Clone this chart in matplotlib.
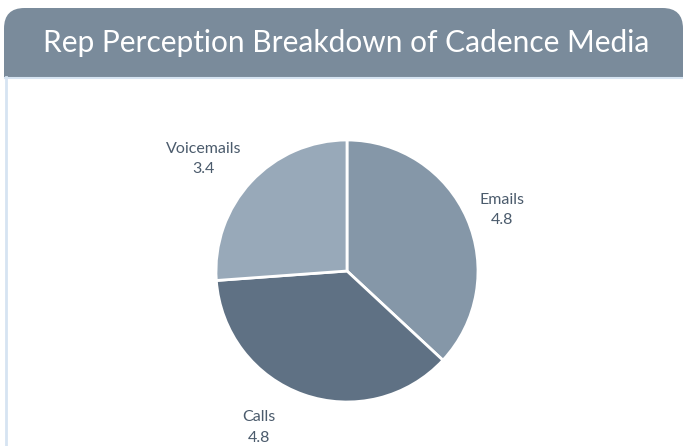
import matplotlib.pyplot as plt
from matplotlib.patches import FancyBboxPatch, Rectangle
from matplotlib.lines import Line2D
import numpy as np

plt.rcParams['font.family'] = ['Lato', 'DejaVu Sans']

title = 'Rep Perception Breakdown of Cadence Media'
media = ['Emails', 'Calls', 'Voicemails']
scores = [4.8, 4.8, 3.4]
colors = ['#8597a8', '#5f7184', '#98a9b9']

W, H = 683, 446
fig = plt.figure(figsize=(W / 100, H / 100), dpi=100)
fig.patch.set_facecolor('white')

# card border + header (pixel coords, y from top)
def fy(y):
    return 1 - y / H

fig.add_artist(Line2D([5.5 / W, 5.5 / W], [fy(77), 0], color='#d6e4f2', lw=2))
fig.add_artist(Line2D([5 / W, 1], [fy(77.5), fy(77.5)], color='#d6e4f2', lw=1.5))
head = FancyBboxPatch((4 / W, fy(77)), 679 / W, 69 / H,
                      boxstyle='round,pad=0,rounding_size=0.03',
                      mutation_aspect=W / H,
                      transform=fig.transFigure, facecolor='#7a8b9b', edgecolor='none')
fig.add_artist(head)
fig.add_artist(Rectangle((4 / W, fy(77)), 679 / W, 35 / H, transform=fig.transFigure,
                         facecolor='#7a8b9b', edgecolor='none'))
fig.text(346 / W, fy(43), title, color='white', fontsize=21.5,
         ha='center', va='center')

# pie
cx, cy, r = 347, 271, 131
ax = fig.add_axes([(cx - r) / W, fy(cy + r), 2 * r / W, 2 * r / H])
wedges, _ = ax.pie(scores, colors=colors, startangle=90, counterclock=False,
                   radius=1, wedgeprops=dict(edgecolor='white', linewidth=2))
ax.set_xlim(-1, 1)
ax.set_ylim(-1, 1)
ax.set_aspect('equal')
ax.axis('off')

# label placement: distance and angle tweak per slice
dist = [1.27, 1.37, 1.39]
shift = [-2, -10, 5]
for w, name, val, d, s in zip(wedges, media, scores, dist, shift):
    ang = np.deg2rad((w.theta1 + w.theta2) / 2 + s)
    ax.text(d * np.cos(ang), d * np.sin(ang), f'{name}\n{val}', ha='center',
            va='center', fontsize=11.5, color='#4b5b6c', linespacing=1.6,
            clip_on=False)

fig.savefig('out.png', dpi=100)
